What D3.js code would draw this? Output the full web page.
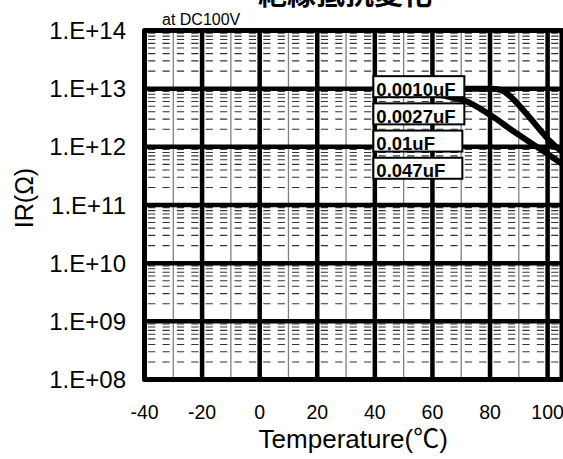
<!DOCTYPE html>
<html>
<head>
<meta charset="utf-8">
<script src="https://cdn.jsdelivr.net/npm/d3@7"></script>
<style>
  body { margin: 0; background: #fff; }
  svg { display: block; font-family: "Liberation Sans", Arial, sans-serif; }
</style>
</head>
<body>
<div id="chart"></div>
<script>
const chartTitle = "絶縁抵抗変化";
const subTitle = "at DC100V";
const xTitle = "Temperature(℃)";
const yTitle = "IR(Ω)";

const tempTicks = [-40, -20, 0, 20, 40, 60, 80, 100];
const tempMinor = [-30, -10, 10, 30, 50, 70, 90];
const irTicks = [1e8, 1e9, 1e10, 1e11, 1e12, 1e13, 1e14];
const irTickLabels = ["1.E+08", "1.E+09", "1.E+10", "1.E+11", "1.E+12", "1.E+13", "1.E+14"];

const capLabels = ["0.0010uF", "0.0027uF", "0.01uF", "0.047uF"];

// the two curves that can be seen on the sheet
const tempUpper = [45, 70, 80, 82, 85, 87, 90.5, 94, 97.4, 100.8, 104.5, 106];
const irUpper = [1e13, 1e13, 1e13, 9.9e12, 8.9e12, 7.4e12, 4.9e12, 3.1e12, 1.95e12, 1.25e12, 8.6e11, 7.6e11];
const tempLower = [41, 50, 60, 66, 71.3, 80, 88, 96.3, 101.9, 106];
const irLower = [1e13, 9.5e12, 8.3e12, 7.2e12, 6.2e12, 3.55e12, 1.87e12, 1.0e12, 6.5e11, 4.7e11];

const width = 563;
const height = 459;

const svg = d3.select("#chart")
  .append("svg")
  .attr("width", width)
  .attr("height", height);

const xScale = d3.scaleLinear().domain([-40, 105]).range([144.5, 562]);
const yScale = d3.scaleLog().domain([1e8, 1e14]).range([379.5, 30.5]);

const x0 = xScale.range()[0], x1 = xScale.range()[1];
const yTop = yScale.range()[1], yBottom = yScale.range()[0];

svg.append("defs")
  .append("clipPath")
  .attr("id", "plot-clip")
  .append("rect")
  .attr("x", x0)
  .attr("y", yTop)
  .attr("width", x1 - x0)
  .attr("height", yBottom - yTop);

const grid = svg.append("g");

// dashed lines at 2..9 of every decade
const minorIR = [];
irTicks.slice(0, -1).forEach((d) => {
  for (let k = 2; k <= 9; k++) minorIR.push(d * k);
});
const dash = (xScale(5) - xScale(0)) / 2;
grid.selectAll(".minor-h")
  .data(minorIR)
  .enter()
  .append("line")
  .attr("x1", x0)
  .attr("x2", x1)
  .attr("y1", (d) => yScale(d))
  .attr("y2", (d) => yScale(d))
  .attr("stroke", "#333")
  .attr("stroke-width", 1.1)
  .attr("stroke-dasharray", dash + "," + dash)
  .attr("stroke-dashoffset", dash * 1.5);

grid.selectAll(".minor-v")
  .data(tempMinor)
  .enter()
  .append("line")
  .attr("x1", (d) => xScale(d))
  .attr("x2", (d) => xScale(d))
  .attr("y1", yTop)
  .attr("y2", yBottom)
  .attr("stroke", "#808080")
  .attr("stroke-width", 1.3);

grid.selectAll(".major-h")
  .data(irTicks)
  .enter()
  .append("line")
  .attr("x1", x0)
  .attr("x2", x1)
  .attr("y1", (d) => yScale(d))
  .attr("y2", (d) => yScale(d))
  .attr("stroke", "#000")
  .attr("stroke-width", 4.5);

grid.selectAll(".major-v")
  .data(tempTicks)
  .enter()
  .append("line")
  .attr("x1", (d) => xScale(d))
  .attr("x2", (d) => xScale(d))
  .attr("y1", yTop)
  .attr("y2", yBottom)
  .attr("stroke", "#000")
  .attr("stroke-width", 4.5);

// curves
const line = d3.line()
  .x((d) => xScale(d[0]))
  .y((d) => yScale(d[1]))
  .curve(d3.curveMonotoneX);

const curves = [
  d3.zip(tempUpper, irUpper),
  d3.zip(tempLower, irLower)
];

svg.append("g")
  .attr("clip-path", "url(#plot-clip)")
  .selectAll("path")
  .data(curves)
  .enter()
  .append("path")
  .attr("d", line)
  .attr("fill", "none")
  .attr("stroke", "#000")
  .attr("stroke-width", 6);

// frame
svg.append("rect")
  .attr("x", x0)
  .attr("y", yTop)
  .attr("width", x1 - x0)
  .attr("height", yBottom - yTop)
  .attr("fill", "none")
  .attr("stroke", "#000")
  .attr("stroke-width", 5)
  .attr("stroke-linejoin", "round");

// capacitance labels
const boxLeft = xScale(40) - 1.5;
const boxTop = yScale(1e13) - 12.5;
const boxStep = 27.2;
const labels = svg.append("g")
  .selectAll("g")
  .data(capLabels)
  .enter()
  .append("g")
  .attr("transform", (d, i) => "translate(" + boxLeft + "," + (boxTop + i * boxStep) + ")");

labels.append("rect")
  .attr("width", (d, i) => i < 2 ? 91 : 89)
  .attr("height", 21)
  .attr("fill", "#fff")
  .attr("stroke", "#000")
  .attr("stroke-width", 2);

labels.append("text")
  .attr("x", 3)
  .attr("y", 19.5)
  .attr("font-size", "18.5px")
  .attr("font-weight", "bold")
  .text((d) => d);

// tick labels
svg.append("g")
  .selectAll("text")
  .data(tempTicks)
  .enter()
  .append("text")
  .attr("x", (d) => xScale(d))
  .attr("y", 419)
  .attr("text-anchor", "middle")
  .attr("font-size", "19.5px")
  .text((d) => d);

svg.append("g")
  .selectAll("text")
  .data(irTicks)
  .enter()
  .append("text")
  .attr("x", 126)
  .attr("y", (d) => yScale(d))
  .attr("dy", "0.36em")
  .attr("text-anchor", "end")
  .attr("font-size", "24px")
  .text((d, i) => irTickLabels[i]);

// titles
svg.append("text")
  .attr("x", (x0 + x1) / 2)
  .attr("y", 448)
  .attr("text-anchor", "middle")
  .attr("font-size", "26px")
  .style("font-family", "'Liberation Sans', 'Noto Sans CJK JP', sans-serif")
  .text(xTitle);

svg.append("text")
  .attr("transform", "translate(33,198) rotate(-90)")
  .attr("text-anchor", "middle")
  .attr("font-size", "25px")
  .style("font-family", "'Liberation Sans', 'Noto Sans CJK JP', sans-serif")
  .text(yTitle);

svg.append("text")
  .attr("x", 162)
  .attr("y", 25)
  .attr("font-size", "16px")
  .text(subTitle);

svg.append("text")
  .attr("x", 345)
  .attr("y", 5)
  .attr("text-anchor", "middle")
  .attr("font-size", "29px")
  .attr("font-weight", "bold")
  .style("font-family", "'Noto Sans CJK JP', sans-serif")
  .text(chartTitle);
</script>
</body>
</html>
